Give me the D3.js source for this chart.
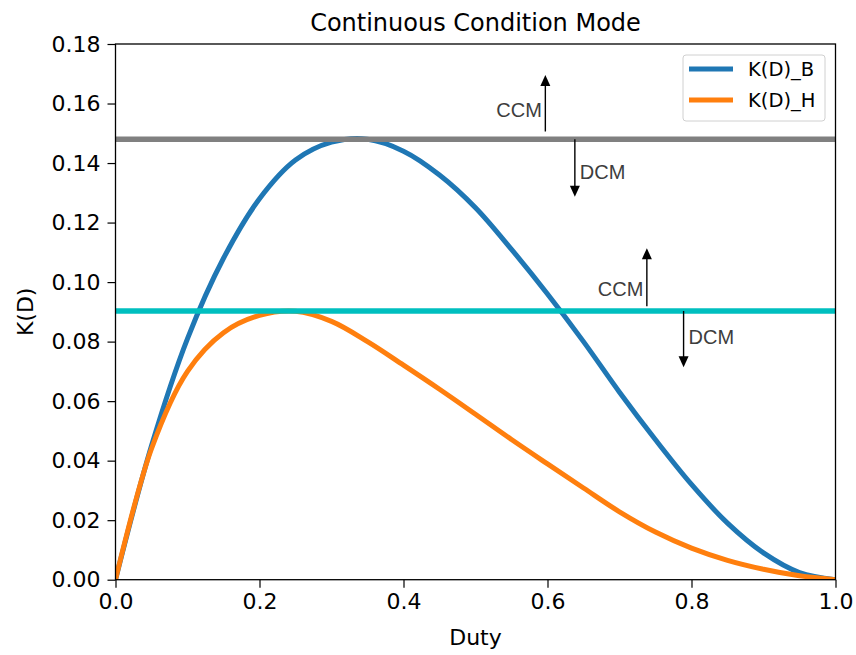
<!DOCTYPE html>
<html>
<head>
<meta charset="utf-8">
<script src="https://cdn.jsdelivr.net/npm/d3@7"></script>
<style>
  html, body { margin: 0; padding: 0; background: #fff; }
  svg { display: block; font-family: "DejaVu Sans", sans-serif; }
</style>
</head>
<body>
<figure id="chart" style="margin:0"></figure>
<script>
// values
const duty = [0, 0.05, 0.1, 0.15, 0.2, 0.25, 0.3, 0.35, 0.4, 0.45, 0.5,
              0.55, 0.6, 0.65, 0.7, 0.75, 0.8, 0.85, 0.9, 0.95, 1.0];
const kB = [0, 0.045, 0.081, 0.108, 0.128, 0.141, 0.147, 0.148, 0.144, 0.136, 0.125,
            0.111, 0.096, 0.080, 0.063, 0.047, 0.032, 0.019, 0.009, 0.0024, 0];
const kH = [0, 0.0440, 0.0700, 0.0830, 0.0888, 0.0902, 0.0868, 0.0800, 0.0721, 0.0640, 0.0556,
            0.0471, 0.0389, 0.0308, 0.0228, 0.0160, 0.0106, 0.0065, 0.0035, 0.0013, 0];
const boundaryB = 0.148;
const boundaryH = 0.0903;
const xTicks = [0, 0.2, 0.4, 0.6, 0.8, 1.0];
const yTicks = [0, 0.02, 0.04, 0.06, 0.08, 0.10, 0.12, 0.14, 0.16, 0.18];
const seriesNames = ["K(D)_B", "K(D)_H"];
const notes = [
  { label: "CCM", x: 0.597, from: 0.1506, to: 0.1696, textY: 0.1556, side: "left" },
  { label: "DCM", x: 0.638, from: 0.148, to: 0.1287, textY: 0.1346, side: "right" },
  { label: "CCM", x: 0.738, from: 0.0919, to: 0.1114, textY: 0.0954, side: "left" },
  { label: "DCM", x: 0.789, from: 0.0903, to: 0.0714, textY: 0.0792, side: "right" }
];

const W = 856, H = 655;
const plotLeft = 115.5, plotRight = 835.5, plotTop = 44, plotBottom = 579.7;

const svg = d3.select("#chart").append("svg")
  .attr("width", W).attr("height", H);

const x = d3.scaleLinear().domain([0, 1]).range([plotLeft, plotRight]);
const y = d3.scaleLinear().domain([0, 0.18]).range([plotBottom, plotTop]);

svg.append("clipPath").attr("id", "plot-clip")
  .append("rect")
  .attr("x", plotLeft).attr("y", plotTop)
  .attr("width", plotRight - plotLeft).attr("height", plotBottom - plotTop);

const plot = svg.append("g").attr("clip-path", "url(#plot-clip)");

// curves
const line = d3.line()
  .x(d => x(d[0]))
  .y(d => y(d[1]))
  .curve(d3.curveCatmullRom.alpha(0.5));

const colors = ["#1f77b4", "#ff7f0e"];
[kB, kH].forEach((vals, i) => {
  plot.append("path")
    .datum(duty.map((d, j) => [d, vals[j]]))
    .attr("d", line)
    .attr("fill", "none")
    .attr("stroke", colors[i])
    .attr("stroke-width", 5);
});

// boundary lines
[[boundaryB, "#808080"], [boundaryH, "#00bfbf"]].forEach(([v, c]) => {
  plot.append("line")
    .attr("x1", x(0)).attr("x2", x(1))
    .attr("y1", y(v)).attr("y2", y(v))
    .attr("stroke", c)
    .attr("stroke-width", 5.5);
});

// arrows and CCM / DCM labels
notes.forEach(n => {
  const dir = n.to > n.from ? -1 : 1;
  const tipY = y(n.to);
  svg.append("line")
    .attr("x1", x(n.x)).attr("x2", x(n.x))
    .attr("y1", y(n.from)).attr("y2", tipY - dir * 9)
    .attr("stroke", "#000").attr("stroke-width", 1.4);
  svg.append("path")
    .attr("d", `M${x(n.x)},${tipY} L${x(n.x) - 5},${tipY - dir * 11} L${x(n.x) + 5},${tipY - dir * 11} Z`)
    .attr("fill", "#000");
  svg.append("text")
    .attr("x", n.side === "left" ? x(n.x) - 3.5 : x(n.x) + 5)
    .attr("y", y(n.textY))
    .attr("text-anchor", n.side === "left" ? "end" : "start")
    .style("font-family", "'Liberation Sans', Arial, sans-serif")
    .style("font-size", "20px")
    .attr("fill", "#3d3d3d")
    .text(n.label);
});

// axes
const xAxis = svg.append("g")
  .attr("transform", `translate(0,${plotBottom})`)
  .call(d3.axisBottom(x).tickValues(xTicks).tickFormat(d3.format(".1f")).tickSize(8).tickPadding(6));
const yAxis = svg.append("g")
  .attr("transform", `translate(${plotLeft},0)`)
  .call(d3.axisLeft(y).tickValues(yTicks).tickFormat(d3.format(".2f")).tickSize(8).tickPadding(7));
[xAxis, yAxis].forEach(g => {
  g.select(".domain").remove();
  g.selectAll(".tick line").attr("stroke", "#000").attr("stroke-width", 1.2);
  g.selectAll(".tick text")
    .style("font-family", "'DejaVu Sans', sans-serif")
    .style("font-size", "22px")
    .attr("fill", "#000");
});

// frame
svg.append("rect")
  .attr("x", plotLeft).attr("y", plotTop)
  .attr("width", plotRight - plotLeft).attr("height", plotBottom - plotTop)
  .attr("fill", "none").attr("stroke", "#000").attr("stroke-width", 1.3);

// title and axis labels
svg.append("text")
  .attr("x", (plotLeft + plotRight) / 2).attr("y", 31)
  .attr("text-anchor", "middle")
  .style("font-size", "24px")
  .text("Continuous Condition Mode");
svg.append("text")
  .attr("x", (plotLeft + plotRight) / 2).attr("y", 645)
  .attr("text-anchor", "middle")
  .style("font-size", "22px")
  .text("Duty");
svg.append("text")
  .attr("transform", `translate(33,${(plotTop + plotBottom) / 2}) rotate(-90)`)
  .attr("text-anchor", "middle")
  .style("font-size", "22px")
  .text("K(D)");

// legend
const legend = svg.append("g").attr("transform", "translate(683,55)");
legend.append("rect")
  .attr("width", 142).attr("height", 66)
  .attr("rx", 3)
  .attr("fill", "#fff").attr("fill-opacity", 0.8)
  .attr("stroke", "#d0d0d0").attr("stroke-width", 1);
seriesNames.forEach((name, i) => {
  const ly = 14 + i * 31;
  legend.append("line")
    .attr("x1", 6).attr("x2", 50)
    .attr("y1", ly).attr("y2", ly)
    .attr("stroke", colors[i]).attr("stroke-width", 5);
  legend.append("text")
    .attr("x", 65).attr("y", ly + 7)
    .style("font-size", "19.5px")
    .text(name);
});
</script>
</body>
</html>
